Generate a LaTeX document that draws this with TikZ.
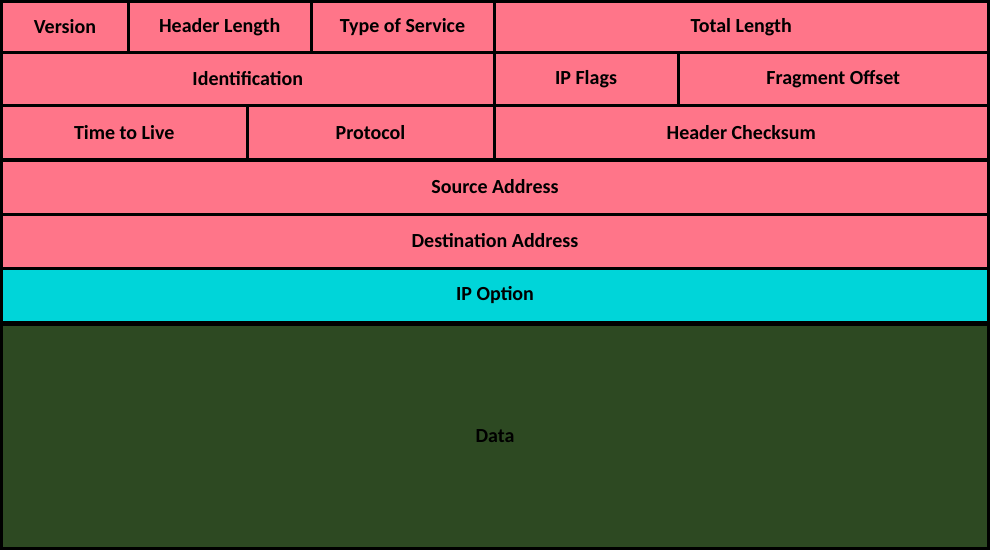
\documentclass[tikz,border=0pt]{standalone}
\usepackage{fontspec}
\setmainfont{Carlito}
\definecolor{hdrpink}{HTML}{FF7589}
\definecolor{optcyan}{HTML}{00D5D9}
\definecolor{datagreen}{HTML}{2D4922}
\newcommand{\field}[7]{%
  \node [field_style, fill=#5, minimum width=#3-#1, minimum height=#4-#2] (#7) at ({(#1+#3)/2},{(#2+#4)/2}) {#6};}
\begin{document}
\begin{tikzpicture}[x=1pt, y=-1pt,
        field_style/.style={rectangle, draw=black, line width=3pt, inner sep=0pt,
          font=\fontsize{20}{24}\selectfont\bfseries, text=black}]
        \fill [black] (0,0) rectangle (990,550);
        \useasboundingbox (0,0) rectangle (990,550);
        \field{1.5}{1.5}{128.5}{52}{hdrpink}{Version}{version}
        \field{128.5}{1.5}{311}{52}{hdrpink}{Header Length}{hlen}
        \field{311}{1.5}{494}{52}{hdrpink}{Type of Service}{tos}
        \field{494}{1.5}{988.5}{52}{hdrpink}{Total Length}{tlen}
        \field{1.5}{52}{494}{105.5}{hdrpink}{Identification}{ident}
        \field{494}{52}{678}{105.5}{hdrpink}{IP Flags}{flags}
        \field{678}{52}{988.5}{105.5}{hdrpink}{Fragment Offset}{frag}
        \field{1.5}{105.5}{247}{159}{hdrpink}{Time to Live}{ttl}
        \field{247}{105.5}{494}{159}{hdrpink}{Protocol}{proto}
        \field{494}{105.5}{988.5}{159}{hdrpink}{Header Checksum}{csum}
        \field{1.5}{160}{988.5}{214}{hdrpink}{Source Address}{src}
        \field{1.5}{214}{988.5}{268}{hdrpink}{Destination Address}{dst}
        \field{1.5}{268}{988.5}{322.5}{optcyan}{IP Option}{opt}
        \field{1.5}{324}{988.5}{548.5}{datagreen}{Data}{data}
\end{tikzpicture}
\end{document}
